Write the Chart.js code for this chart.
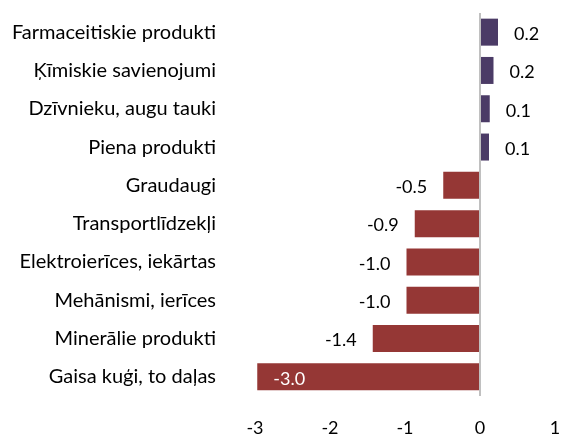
<!DOCTYPE html>
<html>
<head>
<meta charset="utf-8">
<script src="https://cdn.jsdelivr.net/npm/chart.js@4/dist/chart.umd.min.js"></script>
<style>
  html, body { margin: 0; padding: 0; background: #fff; }
  #chart { display: block; }
</style>
</head>
<body>
<canvas id="chart" width="562" height="435"></canvas>
<script>
const categories = [
  "Farmaceitiskie produkti",
  "Ķīmiskie savienojumi",
  "Dzīvnieku, augu tauki",
  "Piena produkti",
  "Graudaugi",
  "Transportlīdzekļi",
  "Elektroierīces, iekārtas",
  "Mehānismi, ierīces",
  "Minerālie produkti",
  "Gaisa kuģi, to daļas"
];
const values = [0.24, 0.18, 0.13, 0.12, -0.49, -0.87, -0.98, -0.98, -1.43, -2.97];
const xTicks = [-3, -2, -1, 0, 1];

const posColor = "#4b3b66";
const negColor = "#953735";
const fontFamily = "Lato, 'Open Sans', sans-serif";

// value labels next to (or inside) each bar
const valueLabels = {
  id: "valueLabels",
  afterDatasetsDraw(chart) {
    const c = chart.ctx;
    const meta = chart.getDatasetMeta(0);
    c.save();
    c.font = "18px " + fontFamily;
    c.textBaseline = "middle";
    meta.data.forEach((bar, i) => {
      const v = values[i];
      const txt = v.toFixed(1);
      if (v >= 0) {
        c.fillStyle = "#000";
        c.textAlign = "left";
        c.fillText(txt, bar.x + 16, bar.y + 2);
      } else if (v < -2) {
        c.fillStyle = "#fff";
        c.textAlign = "left";
        c.fillText(txt, bar.x + 16, bar.y + 2);
      } else {
        c.fillStyle = "#000";
        c.textAlign = "right";
        c.fillText(txt, bar.x - 16, bar.y + 2);
      }
    });
    c.restore();
  }
};

new Chart(document.getElementById("chart").getContext("2d"), {
  type: "bar",
  data: {
    labels: categories,
    datasets: [{
      data: values,
      backgroundColor: values.map(v => v >= 0 ? posColor : negColor),
      barPercentage: 0.705,
      categoryPercentage: 1.0
    }]
  },
  options: {
    indexAxis: "y",
    responsive: false,
    animation: false,
    layout: { padding: { top: 13, right: 7, left: 0, bottom: 0 } },
    plugins: { legend: { display: false }, tooltip: { enabled: false } },
    scales: {
      x: {
        min: -3,
        max: 1,
        afterBuildTicks: axis => { axis.ticks = xTicks.map(v => ({ value: v })); },
        afterFit: axis => {
          axis.height = 39;
          axis.paddingLeft = 0;
          axis.paddingRight = 0;
        },
        grid: {
          drawTicks: false,
          color: ctx => ctx.tick && ctx.tick.value === 0 ? "#c0c0c0" : "rgba(0,0,0,0)",
          lineWidth: 2
        },
        border: { display: false },
        ticks: {
          color: "#000",
          padding: 21,
          maxRotation: 0,
          font: { family: fontFamily, size: 18 },
          callback: v => String(v)
        }
      },
      y: {
        grid: { display: false },
        border: { display: false },
        afterFit: axis => {
          axis.width = 255;
          axis.paddingTop = 0;
          axis.paddingBottom = 0;
        },
        ticks: {
          color: "#000",
          padding: 31,
          font: { family: fontFamily, size: 20 }
        }
      }
    }
  },
  plugins: [valueLabels]
});
</script>
</body>
</html>
